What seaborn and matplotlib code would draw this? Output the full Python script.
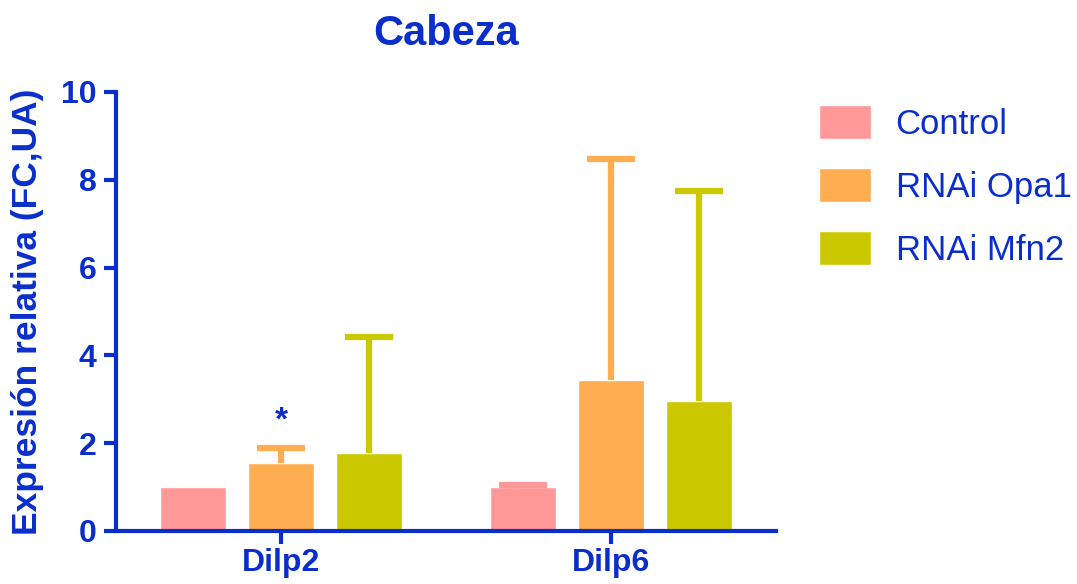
import matplotlib
matplotlib.use("Agg")
import matplotlib.pyplot as plt
import numpy as np
import pandas as pd
import seaborn as sns

genes = ["Dilp2", "Dilp6"]
groups = ["Control", "RNAi Opa1", "RNAi Mfn2"]
means_dilp2 = [1.0, 1.55, 1.78]
means_dilp6 = [1.0, 3.44, 2.96]
err_dilp2 = [0.0, 0.34, 2.64]
err_dilp6 = [0.05, 5.03, 4.78]
palette = ["#FF9896", "#FFAD51", "#CCC800"]
ink = "#0A2ECC"

df = pd.DataFrame({
    "gene": np.repeat(genes, len(groups)),
    "group": groups * len(genes),
    "value": means_dilp2 + means_dilp6,
    "err": err_dilp2 + err_dilp6,
})

sns.set_style("ticks")
plt.rcParams["font.family"] = ["Liberation Sans", "DejaVu Sans"]

fig = plt.figure(figsize=(10.77, 5.84), dpi=100)
ax = fig.add_axes([0.1077, 0.0908, 0.6128, 0.7517])

sns.barplot(data=df, x="gene", y="value", hue="group", order=genes,
            hue_order=groups, palette=palette, width=0.8, gap=0.24,
            saturation=1, errorbar=None, ax=ax, legend=True)

# upper-only error bars, placed on the bar centres
for bar_container, grp, col in zip(ax.containers, groups, palette):
    sub = df[df["group"] == grp].set_index("gene").loc[genes]
    xs = [p.get_x() + p.get_width() / 2 for p in bar_container.patches]
    keep = sub["err"].to_numpy() > 0
    xs = np.asarray(xs)[keep]
    ys = sub["value"].to_numpy()[keep]
    es = sub["err"].to_numpy()[keep]
    _, caps, _ = ax.errorbar(xs, ys, yerr=[np.zeros(len(xs)), es],
                             fmt="none", ecolor=col, elinewidth=4.5,
                             capsize=17, capthick=4.5, zorder=1)
    caps[0].set_visible(False)  # no cap on the lower (zero) side
    for c in caps:
        c.set_solid_capstyle("round")

# significance mark above Dilp2 / RNAi Opa1
opa_bar = ax.containers[1].patches[0]
ax.text(opa_bar.get_x() + opa_bar.get_width() / 2, 2.5, "*", color=ink,
        ha="center", va="center", fontsize=24, fontweight="bold")

ax.set_xlim(-0.5, 1.5)
ax.set_ylim(0, 10)
ax.set_yticks([0, 2, 4, 6, 8, 10])
ax.set_xlabel("")
ax.set_ylabel("Expresión relativa (FC,UA)", color=ink, fontsize=25.5,
              fontweight="bold", labelpad=12)
ax.set_title("Cabeza", color=ink, fontsize=30, fontweight="bold", pad=34)

sns.despine(ax=ax)
for side in ["left", "bottom"]:
    ax.spines[side].set_color(ink)
    ax.spines[side].set_linewidth(3)
ax.tick_params(axis="both", colors=ink, width=3, length=9, labelsize=23,
               direction="out")
ax.tick_params(axis="y", pad=5)
for lab in ax.get_xticklabels() + ax.get_yticklabels():
    lab.set_fontweight("bold")

handles, labels = ax.get_legend_handles_labels()
leg = ax.legend(handles, labels, loc="upper left", bbox_to_anchor=(0.760, 0.820),
                bbox_transform=fig.transFigure, frameon=False, fontsize=25,
                handlelength=1.52, handleheight=1.12, handletextpad=0.7,
                labelspacing=0.79, borderaxespad=0, borderpad=0)
for t in leg.get_texts():
    t.set_color(ink)

fig.savefig("out.png", dpi=100)
